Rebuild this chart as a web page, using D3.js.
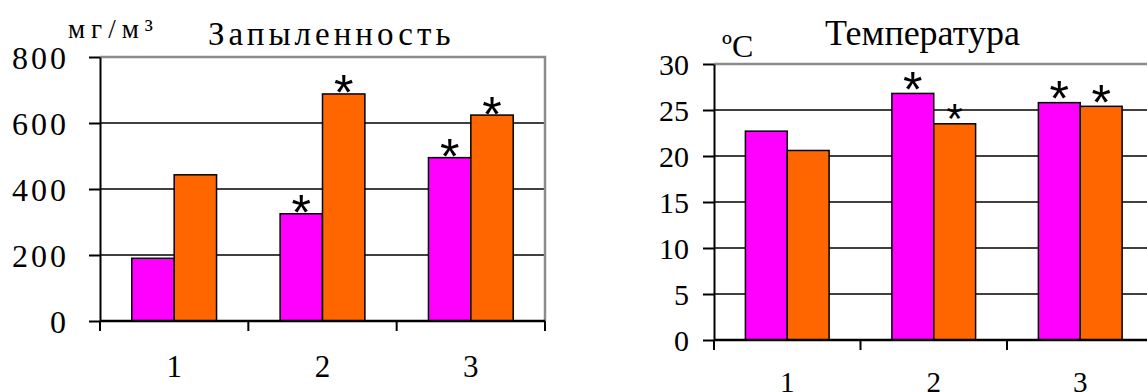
<!DOCTYPE html>
<html>
<head>
<meta charset="utf-8">
<script src="https://cdn.jsdelivr.net/npm/d3@7"></script>
<style>
  body { margin: 0; background: #fff; }
  svg { display: block; }
  svg text { font-family: 'Liberation Serif', 'Times New Roman', serif; }
  svg text.star { font-family: 'Liberation Sans', Arial, sans-serif; }
</style>
</head>
<body>
<svg width="1147" height="392"></svg>
<script>
const categories = ['1', '2', '3'];
const seriesColors = ['#ff00ff', '#ff6600'];

// Запыленность, мг/м3
const dustA = [190, 325, 495];
const dustB = [443, 688, 624];
const dustStarA = [false, true, true];
const dustStarB = [false, true, true];
const dustTicks = [0, 200, 400, 600, 800];

// Температура, ºC
const tempA = [22.7, 26.8, 25.8];
const tempB = [20.6, 23.5, 25.4];
const tempStarA = [false, true, true];
const tempStarB = [false, true, true];
const tempTicks = [0, 5, 10, 15, 20, 25, 30];

const svg = d3.select('svg');

function drawChart(cfg) {
  const g = svg.append('g');
  const x = d3.scaleBand().domain(categories).range(cfg.xRange).padding(0);
  const sub = d3
    .scaleBand()
    .domain([0, 1])
    .range([0, x.bandwidth()])
    .paddingInner(0)
    .paddingOuter(0.75);
  const y = d3.scaleLinear().domain(cfg.domain).range(cfg.yRange);
  const [left, right] = cfg.xRange;
  const top = y(cfg.domain[1]);
  const bottom = y(0);

  // gridlines
  g.append('g')
    .selectAll('line')
    .data(cfg.ticks.filter((t) => t > 0 && t < cfg.domain[1]))
    .enter()
    .append('line')
    .attr('x1', left)
    .attr('x2', right)
    .attr('y1', (d) => y(d))
    .attr('y2', (d) => y(d))
    .attr('stroke', '#000')
    .attr('stroke-width', 1.5);

  // plot area border (top / right, gray)
  g.append('path')
    .attr('d', `M${left},${top}H${right}V${bottom}`)
    .attr('fill', 'none')
    .attr('stroke', '#8c8c8c')
    .attr('stroke-width', 2.5);

  const bars = [];
  categories.forEach((c, i) => {
    bars.push({ cat: c, s: 0, v: cfg.a[i], star: cfg.starA[i] });
    bars.push({ cat: c, s: 1, v: cfg.b[i], star: cfg.starB[i] });
  });

  g.append('g')
    .selectAll('rect')
    .data(bars)
    .enter()
    .append('rect')
    .attr('x', (d) => x(d.cat) + sub(d.s))
    .attr('y', (d) => y(d.v))
    .attr('width', sub.bandwidth())
    .attr('height', (d) => bottom - y(d.v))
    .attr('fill', (d) => seriesColors[d.s])
    .attr('stroke', '#000')
    .attr('stroke-width', 1.5);

  const starSize = (d) => (cfg.smallStar && d.cat === '2' && d.s === 1 ? 42 : 50);
  g.append('g')
    .selectAll('text')
    .data(bars.filter((d) => d.star))
    .enter()
    .append('text')
    .attr('class', 'star')
    .attr('x', (d) => x(d.cat) + sub(d.s) + sub.bandwidth() / 2)
    .attr('y', (d) => y(d.v) - cfg.starGap + 0.57 * starSize(d))
    .attr('text-anchor', 'middle')
    .style('font-size', (d) => starSize(d) + 'px')
    .text('*');

  // y axis
  const yAxis = g
    .append('g')
    .attr('transform', `translate(${left},0)`)
    .call(d3.axisLeft(y).tickValues(cfg.ticks).tickSize(11).tickPadding(cfg.tickPad).tickSizeOuter(0))
    .attr('font-family', null)
    .attr('font-size', null);
  yAxis.select('.domain').attr('stroke', '#000').attr('stroke-width', 2);
  yAxis.selectAll('.tick line').attr('stroke', '#000').attr('stroke-width', 2);
  yAxis
    .selectAll('.tick text')
    .attr('fill', '#000')
    .attr('dy', '0.35em')
    .style('font-size', cfg.labelSize)
    .style('letter-spacing', cfg.spacing);

  // x axis
  const xAxis = g.append('g');
  xAxis
    .append('line')
    .attr('x1', left)
    .attr('x2', right)
    .attr('y1', bottom)
    .attr('y2', bottom)
    .attr('stroke', '#000')
    .attr('stroke-width', 2.5);
  xAxis
    .selectAll('line.tk')
    .data(categories.concat(['end']))
    .enter()
    .append('line')
    .attr('class', 'tk')
    .attr('x1', (d) => (d === 'end' ? right : x(d)))
    .attr('x2', (d) => (d === 'end' ? right : x(d)))
    .attr('y1', bottom)
    .attr('y2', bottom + 10)
    .attr('stroke', '#000')
    .attr('stroke-width', 2);
  xAxis
    .selectAll('text')
    .data(categories)
    .enter()
    .append('text')
    .attr('x', (d) => x(d) + x.bandwidth() / 2)
    .attr('y', cfg.catY)
    .attr('text-anchor', 'middle')
    .style('font-size', cfg.catSize)
    .text((d) => d);

  g.append('text')
    .attr('x', cfg.titleX)
    .attr('y', cfg.titleY)
    .style('font-size', cfg.titleSize)
    .style('letter-spacing', cfg.titleSpacing)
    .text(cfg.title);

  g.append('text')
    .attr('x', cfg.unitX)
    .attr('y', cfg.unitY)
    .style('font-size', cfg.unitSize)
    .style('letter-spacing', cfg.unitSpacing)
    .text(cfg.unit);
}

drawChart({
  a: dustA,
  b: dustB,
  starA: dustStarA,
  starB: dustStarB,
  ticks: dustTicks,
  domain: [0, 800],
  xRange: [100, 545],
  yRange: [321, 57],
  tickPad: 20,
  labelSize: '32px',
  spacing: '3px',
  catY: 377,
  catSize: '31px',
  starGap: 12,
  title: 'Запыленность',
  titleX: 208,
  titleY: 45,
  titleSize: '33px',
  titleSpacing: '4px',
  unit: 'мг/м³',
  unitX: 68,
  unitY: 38,
  unitSize: '27px',
  unitSpacing: '6px',
});

drawChart({
  a: tempA,
  b: tempB,
  starA: tempStarA,
  starB: tempStarB,
  smallStar: true,
  ticks: tempTicks,
  domain: [0, 30],
  xRange: [714, 1153.5],
  yRange: [340, 64],
  tickPad: 14,
  labelSize: '30px',
  spacing: '0px',
  catY: 392,
  catSize: '29px',
  starGap: 15,
  title: 'Температура',
  titleX: 825,
  titleY: 45,
  titleSize: '36px',
  titleSpacing: '0px',
  unit: 'ºC',
  unitX: 722,
  unitY: 57,
  unitSize: '32px',
  unitSpacing: '0px',
});
</script>
</body>
</html>
